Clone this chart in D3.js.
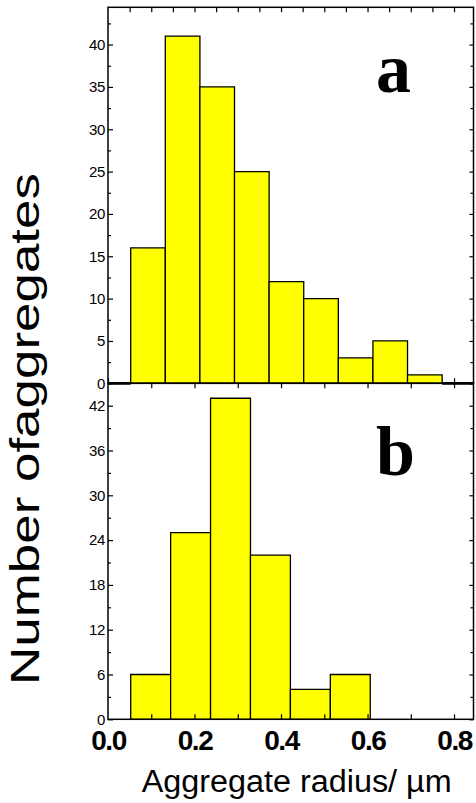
<!DOCTYPE html>
<head>
  <meta charset="utf-8">
  <script src="https://cdn.jsdelivr.net/npm/d3@7"></script>
  <style>
    body { margin: 0; background: #fff; }
    .tick text { font-family: "Liberation Sans", Arial, sans-serif; fill: #000; }
    .tick line { stroke: #000; stroke-width: 1.2; }
  </style>
</head>
<body>

<svg width="476" height="803"></svg>

<script type="text/javascript">
// Histogram data
var topCounts = [0, 16, 41, 35, 25, 12, 10, 3, 5, 1, 0],   // panel a (zero bins at both ends)
    topBinStart = -0.0275,
    topBinWidth = 0.08;
var bottomCounts = [6, 25, 43, 22, 4, 6],                  // panel b
    bottomBinStart = 0.0525,
    bottomBinWidth = 0.0923;
var xTickValues = [0, 0.2, 0.4, 0.6, 0.8],
    xMinorTicks = [0, 0.1, 0.2, 0.3, 0.4, 0.5, 0.6, 0.7, 0.8],
    xTopTicks = [0.05, 0.1, 0.15, 0.2, 0.25, 0.3, 0.35, 0.4, 0.45, 0.5, 0.55, 0.6, 0.65, 0.7, 0.75, 0.8];
var topYTicks = [0, 5, 10, 15, 20, 25, 30, 35, 40],
    topYMinor = [2.5, 7.5, 12.5, 17.5, 22.5, 27.5, 32.5, 37.5, 42.5],
    bottomYTicks = [0, 6, 12, 18, 24, 30, 36, 42],
    bottomYMinor = [3, 9, 15, 21, 27, 33, 39, 45];

// frame edges (careful: "top" is taken by window.top)
var xLeft = 108, xRight = 473.5, yTopEdge = 7.3, yMid = 383.3, yBottom = 719.3;
var barColor = "#ffff00";

var svg = d3.select("svg");

var x = d3.scaleLinear().domain([0, 0.845]).range([xLeft, xRight]);
var yTop = d3.scaleLinear().domain([0, 44.4]).range([yMid, yTopEdge]);
var yBot = d3.scaleLinear().domain([0, 45]).range([yBottom, yMid]);

// clip paths so the edge bins stay inside the frame
var defs = svg.append("defs");
defs.append("clipPath").attr("id", "clipTop").append("rect")
  .attr("x", xLeft).attr("y", yTopEdge - 2).attr("width", xRight - xLeft).attr("height", yMid - yTopEdge + 4);
defs.append("clipPath").attr("id", "clipBot").append("rect")
  .attr("x", xLeft).attr("y", yMid - 2).attr("width", xRight - xLeft).attr("height", yBottom - yMid + 4);

function noDomain(g) { g.select(".domain").remove(); }

// bars as paths, so an empty bin still shows as a line on the baseline
function barPath(start, width, y) {
  return function(d, i) {
    var x0 = x(start + i * width), x1 = x(start + (i + 1) * width);
    return "M" + x0 + "," + y(0) + "V" + y(d) + "H" + x1 + "V" + y(0) + "Z";
  };
}

// ---- panel a ----
// bottom ticks pointing up (mostly hidden behind the bars)
svg.append("g").attr("transform", "translate(0," + yMid + ")")
  .call(d3.axisBottom(x).tickValues(xMinorTicks).tickSize(-5).tickFormat(""))
  .call(noDomain);

svg.append("g").attr("clip-path", "url(#clipTop)")
  .selectAll("path").data(topCounts).enter().append("path")
  .attr("d", barPath(topBinStart, topBinWidth, yTop))
  .attr("fill", barColor)
  .attr("stroke", "#000")
  .attr("stroke-width", function(d) { return d === 0 ? 2.8 : 1.3; });

svg.append("g").attr("transform", "translate(" + xLeft + ",0)")
  .call(d3.axisLeft(yTop).tickValues(topYTicks).tickSize(-5).tickPadding(3))
  .call(noDomain);
svg.append("g").attr("transform", "translate(" + xLeft + ",0)")
  .call(d3.axisLeft(yTop).tickValues(topYMinor).tickSize(-3).tickFormat(""))
  .call(noDomain);
svg.append("g").attr("transform", "translate(" + xRight + ",0)")
  .call(d3.axisRight(yTop).tickValues(topYTicks).tickSize(-4).tickFormat(""))
  .call(noDomain);
svg.append("g").attr("transform", "translate(" + xRight + ",0)")
  .call(d3.axisRight(yTop).tickValues(topYMinor).tickSize(-3).tickFormat(""))
  .call(noDomain);
svg.append("g").attr("transform", "translate(0," + yTopEdge + ")")
  .call(d3.axisTop(x).tickValues(xTopTicks).tickSize(-5).tickFormat(""))
  .call(noDomain);

// ---- panel b ----
svg.append("g").attr("clip-path", "url(#clipBot)")
  .selectAll("path").data(bottomCounts).enter().append("path")
  .attr("d", barPath(bottomBinStart, bottomBinWidth, yBot))
  .attr("fill", barColor)
  .attr("stroke", "#000")
  .attr("stroke-width", 1.3);

svg.append("g").attr("transform", "translate(" + xLeft + ",0)")
  .call(d3.axisLeft(yBot).tickValues(bottomYTicks).tickSize(-5).tickPadding(3))
  .call(noDomain);
svg.append("g").attr("transform", "translate(" + xLeft + ",0)")
  .call(d3.axisLeft(yBot).tickValues(bottomYMinor).tickSize(-3).tickFormat(""))
  .call(noDomain);
svg.append("g").attr("transform", "translate(" + xRight + ",0)")
  .call(d3.axisRight(yBot).tickValues(bottomYTicks).tickSize(-4).tickFormat(""))
  .call(noDomain);
svg.append("g").attr("transform", "translate(" + xRight + ",0)")
  .call(d3.axisRight(yBot).tickValues(bottomYMinor).tickSize(-3).tickFormat(""))
  .call(noDomain);
// top of panel b, ticks pointing down
svg.append("g").attr("transform", "translate(0," + yMid + ")")
  .call(d3.axisTop(x).tickValues(xMinorTicks.slice(1)).tickSize(-5).tickFormat(""))
  .call(noDomain);
// bottom axis with the bold labels
svg.append("g").attr("transform", "translate(0," + yBottom + ")")
  .call(d3.axisBottom(x).tickValues(xMinorTicks.slice(1)).tickSize(-5).tickFormat(""))
  .call(noDomain);
svg.append("g").attr("class", "xlab").attr("transform", "translate(0," + yBottom + ")")
  .call(d3.axisBottom(x).tickValues(xTickValues).tickSize(0).tickFormat(d3.format(".1f")))
  .call(noDomain);

svg.selectAll(".tick text").attr("font-size", 15).attr("letter-spacing", -0.4);
svg.selectAll(".xlab .tick text")
  .attr("font-size", 28).attr("font-weight", "bold").attr("letter-spacing", -1.5)
  .attr("dy", null).attr("y", 31);

// frames
[[yTopEdge, yMid], [yMid, yBottom]].forEach(function(p) {
  svg.append("rect")
    .attr("x", xLeft).attr("y", p[0])
    .attr("width", xRight - xLeft).attr("height", p[1] - p[0])
    .attr("fill", "none").attr("stroke", "#000").attr("stroke-width", 1.5);
});

// panel letters
svg.append("text").attr("x", 376).attr("y", 91.5)
  .style("font-family", "'Liberation Serif', 'Times New Roman', serif")
  .style("font-weight", "bold").style("font-size", "70px").text("a");
svg.append("text").attr("x", 376).attr("y", 474.5)
  .style("font-family", "'Liberation Serif', 'Times New Roman', serif")
  .style("font-weight", "bold").style("font-size", "70px").text("b");

// axis titles
svg.append("text")
  .attr("transform", "translate(39,429) rotate(-90)")
  .attr("text-anchor", "middle")
  .attr("textLength", 512).attr("lengthAdjust", "spacingAndGlyphs")
  .style("font-family", "'Liberation Sans', Arial, sans-serif")
  .style("font-size", "40px")
  .text("Number ofaggregates");

svg.append("text")
  .attr("x", 141.7).attr("y", 791.5)
  .attr("textLength", 310).attr("lengthAdjust", "spacingAndGlyphs")
  .style("font-family", "'Liberation Sans', Arial, sans-serif")
  .style("font-size", "31px")
  .text("Aggregate radius/ \u00b5m");
</script>
</body>
</html>
